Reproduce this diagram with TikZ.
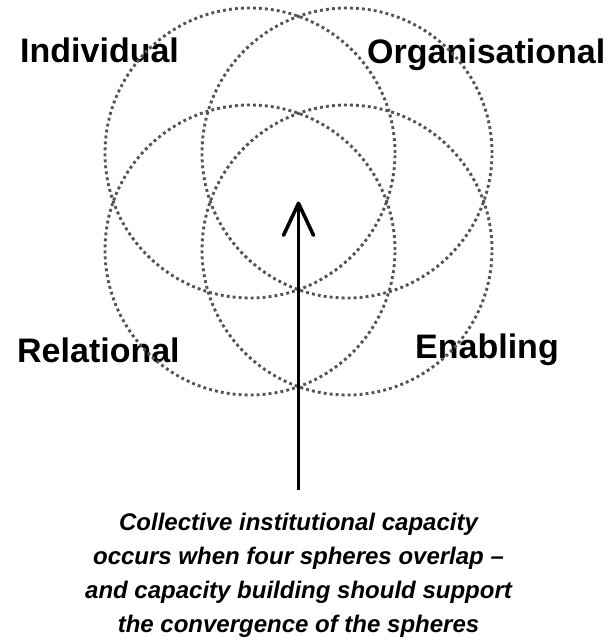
\documentclass[tikz,border=0pt]{standalone}
\usepackage{fontspec}
\setmainfont{Liberation Sans}
\usetikzlibrary{arrows.meta}

\begin{document}
\begin{tikzpicture}[x=1bp,y=-1bp,
    sphere/.style={circle,draw=black!67,line width=2.9bp,dash pattern=on 2.9bp off 3.1bp,minimum size=290bp,inner sep=0pt},
    spherename/.style={anchor=base west,inner sep=0pt,font=\fontsize{34bp}{40bp}\selectfont\bfseries},
    note/.style={align=center,inner sep=0pt,font=\fontsize{24bp}{34bp}\selectfont\bfseries\itshape},
    arrow/.style={-{Straight Barb[length=32bp,width=30bp,round]},line width=3.6bp}]
  \useasboundingbox (0,0) rectangle (612,643);
  \node[spherename] (indivname) at (20,63) {Individual};
  \node[spherename] (orgname) at (367,64) {Organisational};
  \node[spherename] (relname) at (17,362) {Relational};
  \node[spherename] (enabname) at (415,358) {Enabling};
  \node[sphere] (indiv) at (250,153) {};
  \node[sphere] (org) at (347,153) {};
  \node[sphere] (rel) at (250,250) {};
  \node[sphere] (enab) at (347,250) {};
  \coordinate (core) at (298.5,201.5);
  \node[note,anchor=north] (note) at (298.5,513) {Collective institutional capacity\\occurs when four spheres overlap \textendash\\and capacity building should support\\the convergence of the spheres};
  \draw[arrow,shorten <=23bp] (note.north) -- (core);
\end{tikzpicture}
\end{document}
